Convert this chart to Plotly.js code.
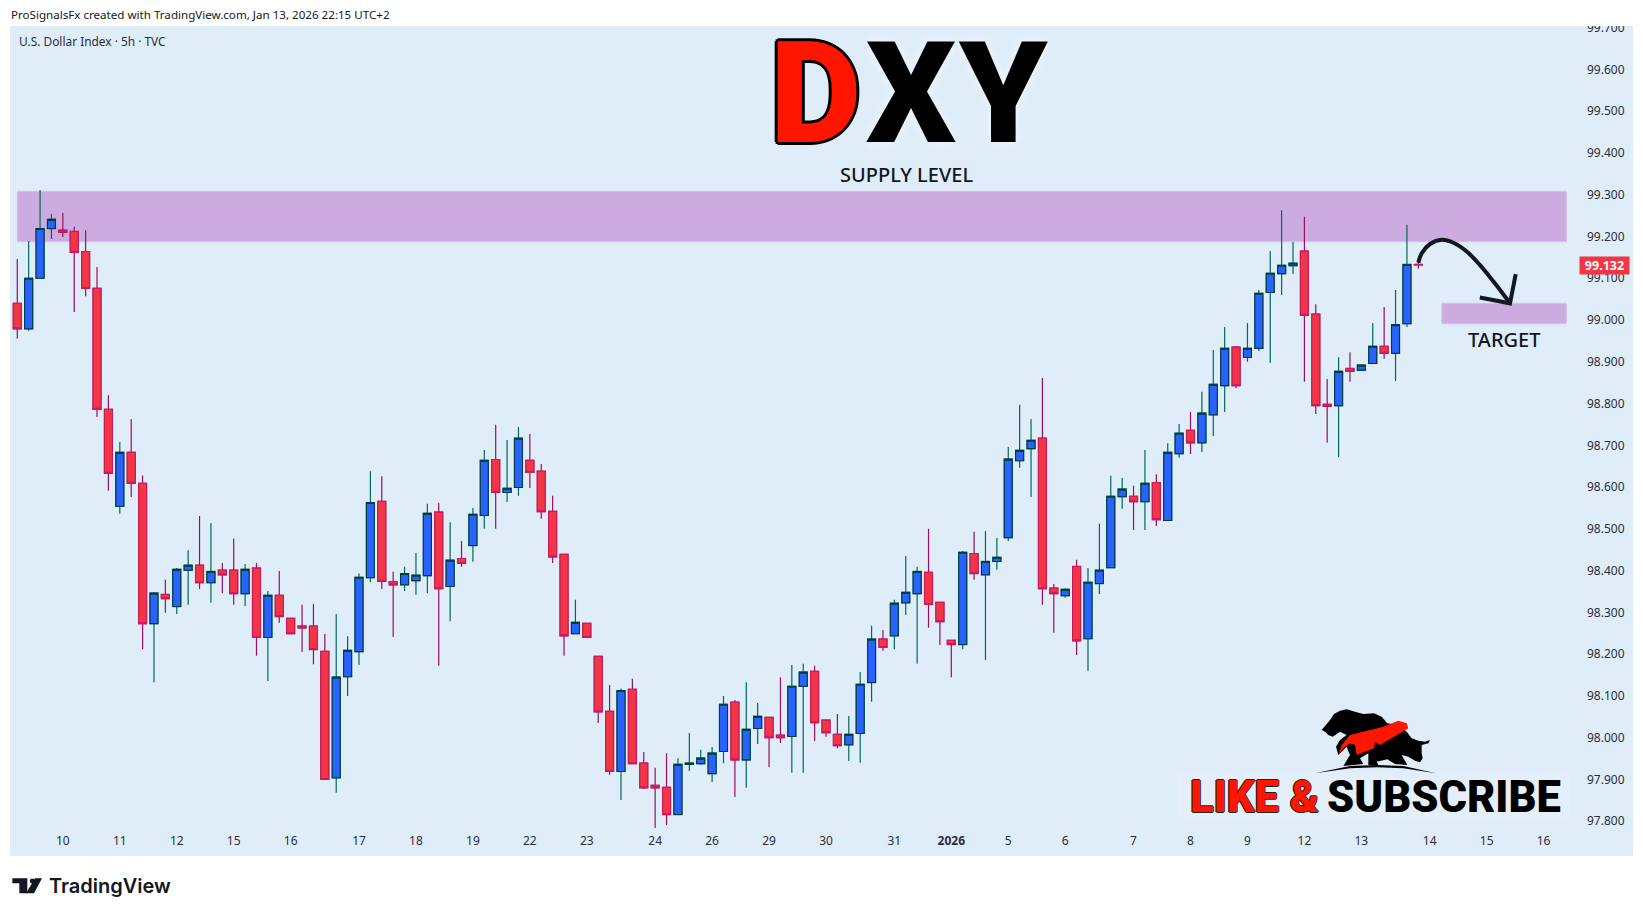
<!DOCTYPE html>
<html>
<head>
<meta charset="utf-8">
<script src="https://cdn.plot.ly/plotly-3.0.1.min.js"></script>
<style>
html, body { margin: 0; padding: 0; background: #ffffff; }
#chartDiv { width: 1643px; height: 916px; }
</style>
</head>
<body>
<div id="chartDiv"></div>
<script>
"use strict";

// U.S. Dollar Index 5h candles
const opens = [
    99.040, 98.979, 99.100, 99.219, 99.215, 99.212, 99.164, 99.076, 98.786, 98.554,
    98.683, 98.609, 98.273, 98.343, 98.314, 98.401, 98.413, 98.371, 98.401, 98.401,
    98.345, 98.406, 98.240, 98.341, 98.286, 98.267, 98.267, 98.207, 97.904, 98.146,
    98.206, 98.383, 98.566, 98.374, 98.366, 98.376, 98.388, 98.540, 98.362, 98.429,
    98.460, 98.532, 98.666, 98.587, 98.599, 98.664, 98.638, 98.542, 98.439, 98.249,
    98.274, 98.195, 98.063, 97.919, 98.116, 97.939, 97.886, 97.881, 97.816, 97.936,
    97.938, 97.914, 97.967, 98.085, 97.947, 98.022, 98.049, 98.006, 98.003, 98.123,
    98.159, 98.042, 98.008, 97.983, 98.010, 98.132, 98.236, 98.244, 98.323, 98.345,
    98.396, 98.324, 98.233, 98.223, 98.441, 98.390, 98.422, 98.479, 98.663, 98.692,
    98.717, 98.358, 98.340, 98.410, 98.237, 98.369, 98.407, 98.577, 98.578, 98.565,
    98.611, 98.520, 98.680, 98.736, 98.706, 98.773, 98.843, 98.935, 98.911, 98.932,
    99.066, 99.111, 99.130, 99.165, 99.014, 98.798, 98.795, 98.884, 98.880, 98.896,
    98.937, 98.920, 98.991, 99.133
];
const highs = [
    99.146, 99.189, 99.311, 99.254, 99.256, 99.223, 99.215, 99.127, 98.820, 98.708,
    98.763, 98.628, 98.349, 98.378, 98.406, 98.449, 98.531, 98.514, 98.418, 98.476,
    98.416, 98.418, 98.351, 98.399, 98.286, 98.318, 98.320, 98.248, 98.296, 98.243,
    98.393, 98.638, 98.626, 98.397, 98.409, 98.442, 98.560, 98.562, 98.516, 98.471,
    98.550, 98.689, 98.749, 98.713, 98.744, 98.727, 98.655, 98.579, 98.439, 98.330,
    98.274, 98.195, 98.126, 98.118, 98.141, 97.966, 97.928, 97.963, 97.951, 98.011,
    97.971, 97.978, 98.100, 98.090, 98.133, 98.083, 98.049, 98.145, 98.174, 98.177,
    98.172, 98.042, 98.057, 98.052, 98.157, 98.268, 98.258, 98.330, 98.435, 98.409,
    98.500, 98.324, 98.233, 98.447, 98.493, 98.495, 98.478, 98.696, 98.797, 98.763,
    98.861, 98.368, 98.358, 98.426, 98.406, 98.512, 98.627, 98.622, 98.603, 98.689,
    98.631, 98.705, 98.751, 98.780, 98.828, 98.928, 98.983, 98.938, 98.993, 99.072,
    99.165, 99.263, 99.187, 99.247, 99.038, 98.859, 98.911, 98.923, 98.894, 98.993,
    99.031, 99.072, 99.228, 99.146
];
const lows = [
    98.955, 98.974, 99.100, 99.194, 99.199, 99.019, 99.057, 98.768, 98.591, 98.536,
    98.576, 98.212, 98.133, 98.299, 98.296, 98.318, 98.356, 98.323, 98.346, 98.318,
    98.315, 98.196, 98.136, 98.275, 98.249, 98.205, 98.176, 97.900, 97.868, 98.100,
    98.174, 98.373, 98.356, 98.241, 98.351, 98.342, 98.346, 98.172, 98.279, 98.409,
    98.421, 98.500, 98.500, 98.564, 98.579, 98.598, 98.524, 98.418, 98.196, 98.249,
    98.240, 98.035, 97.911, 97.851, 97.938, 97.877, 97.784, 97.791, 97.816, 97.920,
    97.935, 97.894, 97.939, 97.858, 97.880, 97.985, 97.930, 97.987, 97.916, 97.916,
    97.992, 98.002, 97.975, 97.944, 97.940, 98.086, 98.208, 98.212, 98.294, 98.177,
    98.263, 98.222, 98.145, 98.212, 98.378, 98.186, 98.402, 98.471, 98.646, 98.576,
    98.318, 98.251, 98.335, 98.198, 98.160, 98.344, 98.407, 98.548, 98.497, 98.497,
    98.507, 98.520, 98.670, 98.679, 98.684, 98.722, 98.780, 98.837, 98.900, 98.926,
    98.897, 99.060, 99.110, 98.852, 98.775, 98.706, 98.672, 98.852, 98.880, 98.896,
    98.907, 98.854, 98.983, 99.123
];
const closes = [
    98.979, 99.100, 99.219, 99.241, 99.210, 99.162, 99.076, 98.786, 98.633, 98.683,
    98.609, 98.273, 98.346, 98.333, 98.403, 98.413, 98.371, 98.398, 98.390, 98.345,
    98.403, 98.240, 98.341, 98.290, 98.249, 98.263, 98.211, 97.900, 98.145, 98.209,
    98.384, 98.563, 98.374, 98.366, 98.393, 98.389, 98.537, 98.357, 98.425, 98.417,
    98.535, 98.664, 98.587, 98.597, 98.717, 98.635, 98.541, 98.433, 98.244, 98.276,
    98.240, 98.062, 97.919, 98.113, 97.938, 97.880, 97.880, 97.816, 97.936, 97.939,
    97.951, 97.963, 98.080, 97.947, 98.020, 98.051, 98.000, 98.000, 98.123, 98.157,
    98.036, 98.012, 97.981, 98.008, 98.128, 98.236, 98.216, 98.322, 98.348, 98.398,
    98.319, 98.278, 98.223, 98.444, 98.393, 98.422, 98.432, 98.667, 98.688, 98.712,
    98.357, 98.345, 98.355, 98.232, 98.372, 98.401, 98.578, 98.595, 98.565, 98.609,
    98.522, 98.683, 98.729, 98.706, 98.777, 98.846, 98.932, 98.843, 98.932, 99.064,
    99.112, 99.131, 99.136, 99.011, 98.795, 98.793, 98.877, 98.877, 98.892, 98.937,
    98.920, 98.989, 99.133, 99.132
];

const tickBars = [4, 9, 14, 19, 24, 30, 35, 40, 45, 50, 56, 61, 66, 71, 77, 82, 87, 92, 98, 103, 108, 113, 118, 124, 129, 134];
const tickLabels = ["10", "11", "12", "15", "16", "17", "18", "19", "22", "23", "24", "26", "29", "30", "31", "<b>2026</b>", "5", "6", "7", "8", "9", "12", "13", "14", "15", "16"];
const priceTicks = [97.8, 97.9, 98.0, 98.1, 98.2, 98.3, 98.4, 98.5, 98.6, 98.7, 98.8, 98.9, 99.0, 99.1, 99.2, 99.3, 99.4, 99.5, 99.6, 99.7];

// zones and the hand drawn forecast arrow, in bars and prices
const supplyZone = [99.1875, 99.308];
const targetZone = [98.991, 99.040];
const arrowCurveBars = [123.0, 123.3, 124.03, 125.05, 126.08, 127.25, 128.4, 129.6, 131.05];
const arrowCurvePrices = [99.137, 99.160, 99.182, 99.192, 99.185, 99.164, 99.132, 99.092, 99.040];
const arrowHeadBars = [128.4, 131.05, 131.55];
const arrowHeadPrices = [99.054, 99.040, 99.110];

const barIndex = opens.map(function (v, i) { return i; });
const bodyHighs = opens.map(function (v, i) { return Math.max(v, closes[i]); });
const bodyLows = opens.map(function (v, i) { return Math.min(v, closes[i]); });

const plotLeft = 10, plotRight = 1582, plotTop = 26, plotBottom = 830;
const plotWidth = plotRight - plotLeft, plotHeight = plotBottom - plotTop;

function paperX(x) { return (x - plotLeft) / plotWidth; }
function paperY(y) { return (plotBottom - y) / plotHeight; }

// path in page pixels for shapes that are not on the price scale
function pagePath(points, originX, originY, scale) {
    return points.map(function (p, i) {
        return (i ? "L " : "M ") + paperX(originX + p[0] * scale) + " " + paperY(originY + p[1] * scale);
    }).join(" ") + " Z";
}

function pageShape(points, originX, originY, scale, fill) {
    return {
        type: "path", xref: "paper", yref: "paper", layer: "above",
        path: pagePath(points, originX, originY, scale),
        fillcolor: fill, line: { width: 0 }
    };
}

function haloRect(top, alpha) {
    return {
        type: "rect", xref: "paper", yref: "paper", layer: "below",
        x0: paperX(1178), x1: paperX(1570), y0: paperY(817), y1: paperY(top),
        fillcolor: "rgba(255,255,255," + alpha + ")", line: { width: 0 }
    };
}

const bearAndBull = [[515, 120], [525, 108], [540, 90], [552, 72], [570, 62], [590, 58], [615, 65], [640, 72], [672, 70], [695, 80], [712, 100], [745, 105], [770, 125], [785, 145], [805, 152], [825, 155], [840, 150], [835, 160], [815, 165], [815, 190], [818, 205], [810, 217], [795, 212], [775, 200], [755, 195], [772, 225], [735, 222], [712, 208], [680, 215], [685, 225], [655, 225], [655, 190], [630, 205], [640, 222], [580, 228], [600, 195], [590, 170], [565, 195], [558, 170], [570, 150], [590, 135], [570, 125], [548, 140], [535, 135], [525, 125]];
const redSwoosh = [[565, 195], [575, 165], [600, 135], [640, 125], [700, 110], [745, 92], [770, 100], [775, 115], [690, 165], [675, 155], [672, 175], [620, 195], [615, 165], [600, 160], [580, 175]];
const groundArc = [[495, 250], [600, 228], [680, 225], [760, 228], [858, 250], [760, 235], [680, 232], [600, 235]];
const logoBar = [[37, 175], [82, 175], [82, 220], [58, 220], [58, 190], [37, 190]];
const logoSlash = [[105, 175], [126, 175], [102, 220], [78, 220]];
const logoDot = [[92, 176], [102, 176], [105, 183], [102, 190], [92, 190], [89, 183]];

const candleWicks = {
    type: "candlestick", x: barIndex, open: opens, high: highs, low: lows, close: closes,
    whiskerwidth: 0, hoverinfo: "skip", showlegend: false,
    increasing: { line: { color: "#00695c", width: 1.2 }, fillcolor: "#2962ff" },
    decreasing: { line: { color: "#990f5e", width: 1.2 }, fillcolor: "#f23645" }
};
const candleBodies = {
    type: "candlestick", x: barIndex, open: opens, high: bodyHighs, low: bodyLows, close: closes,
    whiskerwidth: 0, hoverinfo: "skip", showlegend: false,
    increasing: { line: { color: "#003d42", width: 1.1 }, fillcolor: "#2962ff" },
    decreasing: { line: { color: "#cc1a5c", width: 1.1 }, fillcolor: "#f23645" }
};
const arrowCurve = {
    type: "scatter", mode: "lines", x: arrowCurveBars, y: arrowCurvePrices,
    line: { color: "#131722", width: 4, shape: "spline" }, hoverinfo: "skip", showlegend: false
};
const arrowHead = {
    type: "scatter", mode: "lines", x: arrowHeadBars, y: arrowHeadPrices,
    line: { color: "#131722", width: 4 }, hoverinfo: "skip", showlegend: false
};

const textFont = "'Noto Sans', sans-serif";
const heavyFont = "Roboto, sans-serif";
const blackOutline = "3px 0 0 #000, -3px 0 0 #000, 0 3px 0 #000, 0 -3px 0 #000, 2px 2px 0 #000, -2px 2px 0 #000, 2px -2px 0 #000, -2px -2px 0 #000";
const thinOutline = "1px 0 0 #222, -1px 0 0 #222, 0 1px 0 #222, 0 -1px 0 #222";
const softGlow = "0 0 10px #f2f8fd";

function pageText(text, x, y, xanchor, size, color, extra) {
    return Object.assign({
        text: text, xref: "paper", yref: "paper", x: paperX(x), y: paperY(y),
        xanchor: xanchor, yanchor: "middle", showarrow: false, borderpad: 0,
        font: { family: textFont, size: size, color: color }
    }, extra || {});
}

function bigLetter(letter, x, color, shadow) {
    return pageText(letter, x, 93, "center", 141, color, {
        height: 120,
        font: { family: heavyFont, size: 141, color: color, weight: 900, shadow: shadow }
    });
}

const layout = {
    width: 1643, height: 916,
    margin: { l: plotLeft, r: 1643 - plotRight, t: plotTop, b: 916 - plotBottom, pad: 0 },
    paper_bgcolor: "#ffffff",
    plot_bgcolor: "#dfedf9",
    boxmode: "overlay", boxgap: 0.3, boxgroupgap: 0,
    showlegend: false,
    dragmode: false,
    xaxis: {
        range: [-0.64, 137.37], rangeslider: { visible: false }, showgrid: false, zeroline: false,
        tickmode: "array", tickvals: tickBars, ticktext: tickLabels, ticklen: 0, showline: false,
        tickangle: 0, ticklabelstandoff: 2, tickfont: { family: textFont, size: 12, color: "#2a2e39" }
    },
    yaxis: {
        range: [97.779, 99.7039], side: "right", showgrid: false, zeroline: false, showline: false,
        tickmode: "array", tickvals: priceTicks, tickformat: ".3f", ticklen: 0,
        ticklabelstandoff: 4, tickfont: { family: textFont, size: 12, color: "#2a2e39" }
    },
    shapes: [
        { type: "rect", xref: "paper", yref: "paper", layer: "below", x0: paperX(10), x1: paperX(1633), y0: paperY(856), y1: paperY(26), fillcolor: "#dfedf9", line: { width: 0 } },
        haloRect(766, 0.05),
        haloRect(772, 0.07),
        haloRect(778, 0.1),
        { type: "rect", xref: "x", yref: "y", layer: "below", x0: 0, x1: 136, y0: supplyZone[0], y1: supplyZone[1], fillcolor: "#ccace0", line: { color: "#d8bfe9", width: 1 } },
        { type: "rect", xref: "x", yref: "y", layer: "below", x0: 125.06, x1: 136, y0: targetZone[0], y1: targetZone[1], fillcolor: "#ccace0", line: { color: "#d8bfe9", width: 1 } },
        // hides the top of the highest price label, the picture cuts it off too
        { type: "rect", xref: "paper", yref: "paper", layer: "above", x0: paperX(1560), x1: paperX(1643), y0: paperY(26), y1: paperY(0), fillcolor: "#ffffff", line: { width: 0 } },
        pageShape(bearAndBull, 1150, 690, 1 / 3, "#000000"),
        pageShape(redSwoosh, 1150, 690, 1 / 3, "#ff1500"),
        pageShape(groundArc, 1150, 690, 1 / 3, "#000000"),
        pageShape(logoBar, 0, 820, 1 / 3, "#131722"),
        pageShape(logoSlash, 0, 820, 1 / 3, "#131722"),
        pageShape(logoDot, 0, 820, 1 / 3, "#131722")
    ],
    annotations: [
        pageText("ProSignalsFx created with TradingView.com, Jan 13, 2026 22:15 UTC+2", 9.5, 14.5, "left", 11.6, "#131722"),
        pageText("U.S. Dollar Index · 5h · TVC", 17.5, 41, "left", 11.9, "#2a2e39"),
        pageText("SUPPLY LEVEL", 906, 175, "center", 20, "#131722", { font: { family: textFont, size: 20, color: "#131722", weight: 500 } }),
        pageText("TARGET", 1504, 339.5, "center", 20, "#131722", { font: { family: textFont, size: 20, color: "#131722", weight: 500 } }),
        bigLetter("D", 815.7, "#ff1500", blackOutline),
        bigLetter("X", 911, "#000000", softGlow),
        bigLetter("Y", 1003, "#000000", softGlow),
        pageText("LIKE &", 1254, 797, "center", 43.5, "#ff1500", { font: { family: heavyFont, size: 43.5, color: "#ff1500", weight: 900, shadow: thinOutline } }),
        pageText("SUBSCRIBE", 1444, 797, "center", 43.5, "#000000", { font: { family: heavyFont, size: 43.5, color: "#000000", weight: 900 } }),
        pageText("TradingView", 48, 886, "left", 20, "#131722", { font: { family: "Inter, sans-serif", size: 20, color: "#131722", weight: 600 } }),
        {
            text: "<b>" + closes[closes.length - 1].toFixed(3) + "</b>", xref: "paper", yref: "y",
            x: paperX(1604.5), y: closes[closes.length - 1], xanchor: "center", yanchor: "middle", yshift: -1,
            showarrow: false, width: 49, height: 17, bgcolor: "#f23645", borderpad: 0,
            font: { family: textFont, size: 12.5, color: "#ffffff" }
        }
    ]
};

Plotly.newPlot("chartDiv", [candleWicks, candleBodies, arrowCurve, arrowHead], layout, { displayModeBar: false, staticPlot: true });
</script>
</body>
</html>
